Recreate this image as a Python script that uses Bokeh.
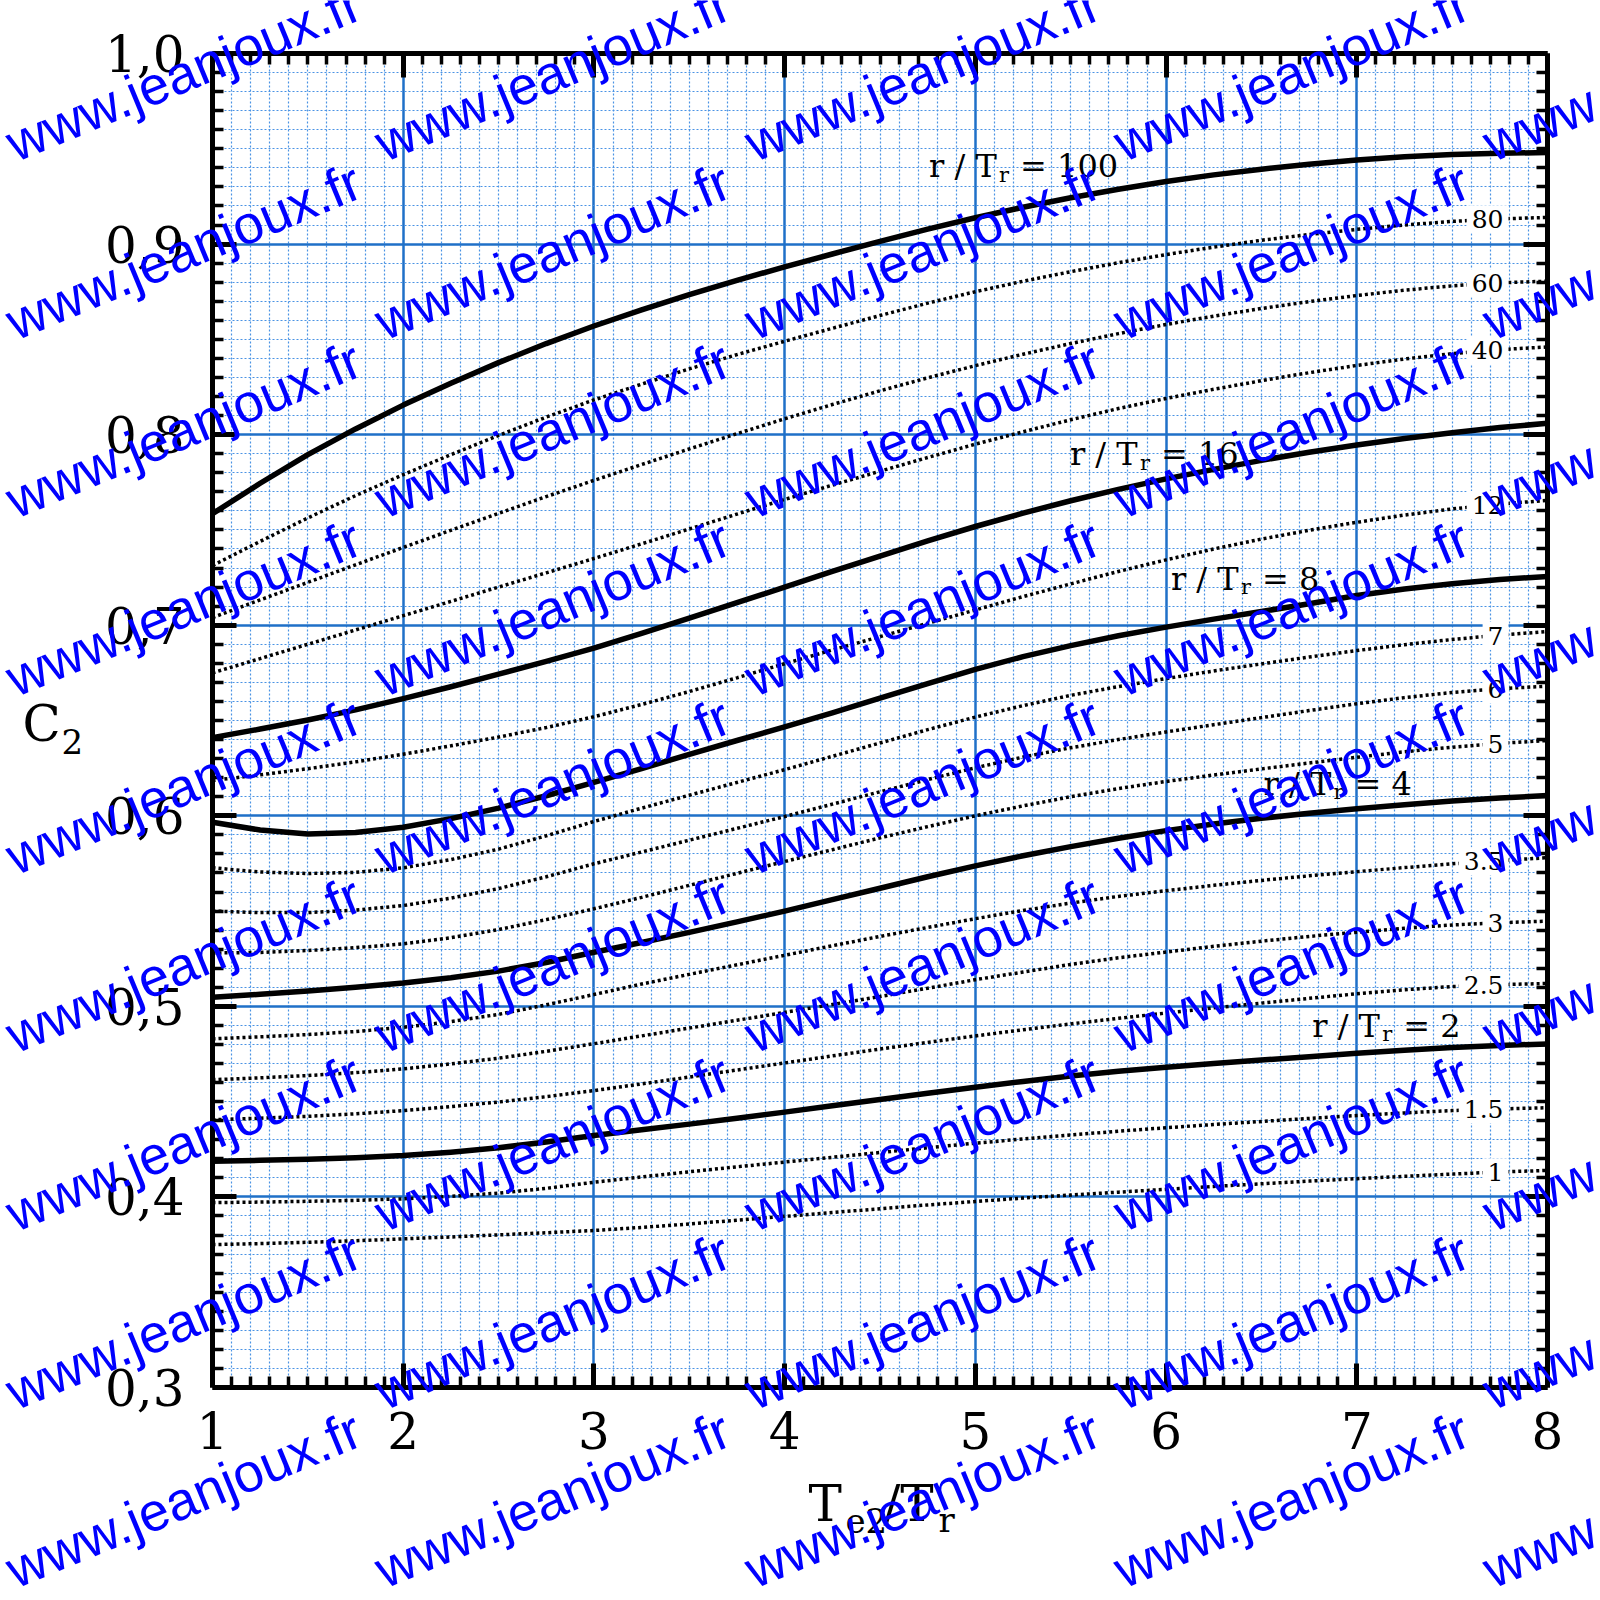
import math
import numpy as np
from bokeh.plotting import figure
from bokeh.layouts import column
from bokeh.models import Range1d, FixedTicker, LinearAxis, Label, CustomJSTickFormatter
from bokeh.core.properties import value
from bokeh.embed import file_html
from bokeh.resources import INLINE

# ---------------- data ----------------
x_ratio = [1.0, 1.25, 1.5, 1.75, 2.0, 2.25, 2.5, 2.75, 3.0, 3.25, 3.5, 3.75, 4.0, 4.25, 4.5,
           4.75, 5.0, 5.25, 5.5, 5.75, 6.0, 6.25, 6.5, 6.75, 7.0, 7.25, 7.5, 7.75, 8.0]

c100 = [0.7585, 0.7745, 0.7895, 0.8030, 0.8155, 0.8270, 0.8378, 0.8478, 0.8570, 0.8655, 0.8735, 0.8810, 0.8880, 0.8948, 0.9014,
        0.9078, 0.9138, 0.9193, 0.9243, 0.9288, 0.9328, 0.9363, 0.9393, 0.9419, 0.9441, 0.9458, 0.9470, 0.9477, 0.9480]
c80 = [0.7313, 0.7440, 0.7563, 0.7680, 0.7790, 0.7895, 0.7996, 0.8092, 0.8182, 0.8265, 0.8345, 0.8420, 0.8490, 0.8558, 0.8625,
       0.8690, 0.8750, 0.8805, 0.8855, 0.8902, 0.8945, 0.8984, 0.9020, 0.9050, 0.9077, 0.9100, 0.9119, 0.9132, 0.9140]
c60 = [0.7040, 0.7133, 0.7225, 0.7317, 0.7408, 0.7498, 0.7587, 0.7675, 0.7760, 0.7843, 0.7925, 0.8005, 0.8083, 0.8158, 0.8230,
       0.8298, 0.8362, 0.8422, 0.8478, 0.8530, 0.8578, 0.8622, 0.8662, 0.8698, 0.8730, 0.8758, 0.8781, 0.8797, 0.8805]
c40 = [0.6750, 0.6825, 0.6900, 0.6975, 0.7050, 0.7125, 0.7200, 0.7275, 0.7350, 0.7427, 0.7505, 0.7583, 0.7660, 0.7735, 0.7808,
       0.7880, 0.7950, 0.8015, 0.8078, 0.8137, 0.8190, 0.8238, 0.8283, 0.8325, 0.8363, 0.8397, 0.8425, 0.8446, 0.8460]
c16 = [0.6410, 0.6455, 0.6503, 0.6556, 0.6615, 0.6677, 0.6743, 0.6810, 0.6880, 0.6957, 0.7037, 0.7118, 0.7200, 0.7282, 0.7363,
       0.7443, 0.7518, 0.7588, 0.7653, 0.7713, 0.7768, 0.7818, 0.7865, 0.7908, 0.7946, 0.7980, 0.8010, 0.8037, 0.8060]
c12 = [0.6185, 0.6215, 0.6247, 0.6283, 0.6323, 0.6367, 0.6413, 0.6463, 0.6520, 0.6584, 0.6652, 0.6724, 0.6798, 0.6870, 0.6940,
       0.7010, 0.7080, 0.7150, 0.7217, 0.7282, 0.7343, 0.7400, 0.7452, 0.7498, 0.7540, 0.7578, 0.7610, 0.7636, 0.7655]
c8 = [0.5966, 0.5925, 0.5905, 0.5912, 0.5940, 0.5985, 0.6040, 0.6105, 0.6175, 0.6248, 0.6322, 0.6395, 0.6466, 0.6540, 0.6617,
      0.6694, 0.6768, 0.6835, 0.6893, 0.6945, 0.6990, 0.7032, 0.7072, 0.7113, 0.7156, 0.7190, 0.7218, 0.7240, 0.7256]
c7 = [0.5727, 0.5705, 0.5697, 0.5703, 0.5727, 0.5770, 0.5825, 0.5895, 0.5970, 0.6040, 0.6108, 0.6175, 0.6242, 0.6312, 0.6382,
      0.6452, 0.6518, 0.6578, 0.6632, 0.6678, 0.6720, 0.6760, 0.6797, 0.6833, 0.6867, 0.6898, 0.6925, 0.6948, 0.6967]
c6 = [0.5500, 0.5492, 0.5492, 0.5505, 0.5529, 0.5568, 0.5618, 0.5680, 0.5748, 0.5810, 0.5872, 0.5934, 0.5996, 0.6061, 0.6126,
      0.6190, 0.6252, 0.6308, 0.6357, 0.6400, 0.6440, 0.6478, 0.6515, 0.6552, 0.6588, 0.6620, 0.6647, 0.6667, 0.6680]
c5 = [0.5280, 0.5283, 0.5293, 0.5308, 0.5328, 0.5360, 0.5403, 0.5455, 0.5512, 0.5572, 0.5635, 0.5698, 0.5760, 0.5822, 0.5884,
      0.5943, 0.6000, 0.6052, 0.6100, 0.6143, 0.6180, 0.6214, 0.6246, 0.6277, 0.6307, 0.6336, 0.6360, 0.6380, 0.6395]
c4 = [0.5048, 0.5063, 0.5080, 0.5100, 0.5122, 0.5150, 0.5185, 0.5230, 0.5284, 0.5335, 0.5388, 0.5443, 0.5500, 0.5560, 0.5620,
      0.5680, 0.5737, 0.5790, 0.5838, 0.5882, 0.5922, 0.5957, 0.5987, 0.6013, 0.6037, 0.6058, 0.6077, 0.6093, 0.6106]
c3_5 = [0.4830, 0.4840, 0.4852, 0.4868, 0.4890, 0.4920, 0.4958, 0.5008, 0.5062, 0.5117, 0.5168, 0.5218, 0.5268, 0.5318, 0.5367,
        0.5414, 0.5460, 0.5503, 0.5542, 0.5577, 0.5607, 0.5635, 0.5661, 0.5685, 0.5707, 0.5728, 0.5748, 0.5765, 0.5780]
c3 = [0.4615, 0.4625, 0.4637, 0.4652, 0.4672, 0.4698, 0.4728, 0.4764, 0.4804, 0.4845, 0.4886, 0.4927, 0.4968, 0.5010, 0.5052,
      0.5095, 0.5140, 0.5180, 0.5220, 0.5255, 0.5285, 0.5315, 0.5342, 0.5367, 0.5389, 0.5410, 0.5427, 0.5439, 0.5447]
c2_5 = [0.4405, 0.4413, 0.4423, 0.4436, 0.4453, 0.4474, 0.4498, 0.4526, 0.4558, 0.4593, 0.4629, 0.4666, 0.4703, 0.4740, 0.4776,
        0.4811, 0.4845, 0.4877, 0.4908, 0.4937, 0.4965, 0.4992, 0.5017, 0.5042, 0.5066, 0.5087, 0.5104, 0.5114, 0.5120]
c2 = [0.4187, 0.4192, 0.4198, 0.4206, 0.4217, 0.4235, 0.4258, 0.4288, 0.4322, 0.4352, 0.4382, 0.4413, 0.4445, 0.4478, 0.4511,
      0.4544, 0.4576, 0.4606, 0.4634, 0.4659, 0.4681, 0.4700, 0.4718, 0.4736, 0.4754, 0.4770, 0.4784, 0.4795, 0.4803]
c1_5 = [0.3970, 0.3973, 0.3977, 0.3982, 0.3990, 0.4003, 0.4020, 0.4045, 0.4077, 0.4105, 0.4132, 0.4158, 0.4183, 0.4208, 0.4233,
        0.4258, 0.4282, 0.4304, 0.4325, 0.4345, 0.4363, 0.4380, 0.4396, 0.4412, 0.4427, 0.4441, 0.4453, 0.4462, 0.4468]
c1 = [0.3750, 0.3755, 0.3762, 0.3770, 0.3780, 0.3790, 0.3801, 0.3812, 0.3824, 0.3840, 0.3858, 0.3878, 0.3898, 0.3918, 0.3938,
      0.3958, 0.3976, 0.3994, 0.4010, 0.4025, 0.4040, 0.4055, 0.4069, 0.4083, 0.4096, 0.4108, 0.4120, 0.4131, 0.4139]

solid_names = ["100", "16", "8", "4", "2"]
solid_values = [c100, c16, c8, c4, c2]
dotted_names = ["80", "60", "40", "12", "7", "6", "5", "3.5", "3", "2.5", "1.5", "1"]
dotted_values = [c80, c60, c40, c12, c7, c6, c5, c3_5, c3, c2_5, c1_5, c1]

x_ticks = [1, 2, 3, 4, 5, 6, 7, 8]
x_tick_labels = ["1", "2", "3", "4", "5", "6", "7", "8"]
y_ticks = [0.3, 0.4, 0.5, 0.6, 0.7, 0.8, 0.9, 1.0]
y_tick_labels = ["0,3", "0,4", "0,5", "0,6", "0,7", "0,8", "0,9", "1,0"]

watermark_text = "www.jeanjoux.fr"

# ---------------- layout (figure pixels) ----------------
W = H = 1600
FL, FT, FR, FB = 212, 53, 1547, 1387          # plot frame edges
PX_X = (FR - FL) / 7.0
PX_Y = (FB - FT) / 0.7
MID = 0.3645                                    # cap-centre offset (em) for "middle" baseline

def dx(px):
    return 1.0 + (px - FL) / PX_X

def dy(py):
    return 1.0 - (py - FT) / PX_Y

x_minor = [round(1 + 0.1 * i, 2) for i in range(71) if i % 10]
y_minor = [round(0.3 + 0.01 * i, 3) for i in range(71) if i % 10]
xt = FixedTicker(ticks=x_ticks, minor_ticks=x_minor)
yt = FixedTicker(ticks=y_ticks, minor_ticks=y_minor)

p = figure(width=W, height=H, x_range=Range1d(1, 8), y_range=Range1d(0.3, 1.0),
           output_backend="svg", toolbar_location=None,
           min_border_left=FL, min_border_right=W - FR,
           min_border_top=FT, min_border_bottom=H - FB)
p.frame_align = False
p.outline_line_color = None
p.background_fill_color = "white"
p.border_fill_color = "white"

SERIF = "DejaVu Serif"

def style_axis(ax, ticker):
    ax.ticker = ticker
    ax.axis_line_width = 5
    ax.axis_line_color = "black"
    ax.major_tick_in = 24
    ax.major_tick_out = 0
    ax.major_tick_line_width = 5
    ax.major_tick_line_color = "black"
    ax.minor_tick_in = 11
    ax.minor_tick_out = 0
    ax.minor_tick_line_width = 3.5
    ax.minor_tick_line_color = "black"
    ax.major_label_text_font = SERIF
    ax.major_label_text_font_size = "50px"
    ax.major_label_text_color = "black"

style_axis(p.xaxis[0], xt)
style_axis(p.yaxis[0], yt)
p.xaxis[0].major_label_overrides = dict(zip(x_ticks, x_tick_labels))
p.yaxis[0].major_label_overrides = dict(zip(y_ticks, y_tick_labels))
p.xaxis[0].major_label_standoff = 24
p.yaxis[0].major_label_standoff = 28

top_ax = LinearAxis(formatter=CustomJSTickFormatter(code="return ''"))
right_ax = LinearAxis(formatter=CustomJSTickFormatter(code="return ''"))
style_axis(top_ax, xt)
style_axis(right_ax, yt)
p.add_layout(top_ax, "above")
p.add_layout(right_ax, "right")

# grids
p.xgrid.ticker = xt
p.ygrid.ticker = yt
p.grid.grid_line_color = "#1f70c8"
p.grid.grid_line_width = 2.5
p.grid.minor_grid_line_color = "#4a93e4"
p.grid.minor_grid_line_width = 1.2
p.grid.minor_grid_line_dash = "2 2"

# curves
for ys in dotted_values:
    p.line(x_ratio, ys, line_color="black", line_width=3.5, line_dash="3 3")
for ys in solid_values:
    p.line(x_ratio, ys, line_color="black", line_width=5.5, line_join="round")

# dotted labels (right aligned near the right edge, white box)
label_right = dx(1508)
label_mid = dx(1491)
for name, ys in zip(dotted_names, dotted_values):
    yv = float(np.interp(label_mid, x_ratio, ys))
    p.add_layout(Label(x=label_right, y=yv, text=name, text_align="right",
                       text_baseline="middle", text_font=SERIF, text_font_size="25px",
                       text_color="black", background_fill_color="white", padding=5))

# solid labels "r / T_r = N"  (left edge, baseline in page pixels)
solid_label_px = [(928.6, 177.5), (1069.4, 465.3), (1170.4, 589.8), (1263.0, 795.0), (1311.7, 1036.7)]
for name, (lx, ly) in zip(solid_names, solid_label_px):
    x0, y0 = dx(lx), dy(ly - MID * 32)
    p.add_layout(Label(x=x0, y=y0, text="r / T", text_font=SERIF, text_font_size="32px",
                       text_align="left", text_baseline="middle", text_color="black"))
    p.add_layout(Label(x=x0, y=y0, x_offset=70, y_offset=-8.5, text="r", text_font=SERIF,
                       text_font_size="21px", text_align="left", text_baseline="middle",
                       text_color="black"))
    p.add_layout(Label(x=x0, y=y0, x_offset=91, text="= " + name, text_font=SERIF,
                       text_font_size="32px", text_align="left", text_baseline="middle",
                       text_color="black"))

# ---------------- overlay figure for the texts outside the frame ----------------
p2 = figure(width=W, height=H, x_range=Range1d(0, W), y_range=Range1d(0, H),
            output_backend="svg", toolbar_location=None,
            min_border_left=0, min_border_right=0, min_border_top=0, min_border_bottom=0,
            x_axis_location=None, y_axis_location=None)
p2.frame_align = False
p2.grid.visible = False
p2.outline_line_color = None
p2.background_fill_color = None
p2.border_fill_color = None
p2.styles = {"position": "absolute", "left": "0px", "top": "0px", "pointer-events": "none"}

# axis titles (left edge, baseline, size) in page pixels
title_parts = [("C", 22, 742, 50), ("2", 61, 753, 34),
               ("T", 808, 1522, 50), ("e2", 845, 1532, 34), ("/T", 883, 1522, 50), ("r", 938, 1532, 34)]
for txt, tx, ty, sz in title_parts:
    p2.text(x=[tx], y=[H - (ty - MID * sz)], text=[txt], text_font=value(SERIF),
            text_font_size=value(f"{sz}px"), text_color="black",
            text_align="left", text_baseline="middle")

# watermark (baseline-left corner of each copy, page pixels)
ang = math.radians(22.5)
wm_size = 54
off = 0.33 * wm_size
wm_cols = [15, 384, 754, 1123, 1492]
wm_rows = [161 + 178.3 * k for k in range(9)]
wx_list, wy_list = [], []
for wy in wm_rows:
    for wx in wm_cols:
        wx_list.append(wx - off * math.sin(ang))
        wy_list.append(H - (wy - off * math.cos(ang)))
p2.text(x=wx_list, y=wy_list, text=[watermark_text] * len(wx_list), angle=ang,
        text_font=value("Liberation Sans"), text_font_size=value(f"{wm_size}px"),
        text_color="#0000ff", text_align="left", text_baseline="middle")

layout = column(p, p2)
open("out.html", "w").write(file_html(layout, INLINE))
